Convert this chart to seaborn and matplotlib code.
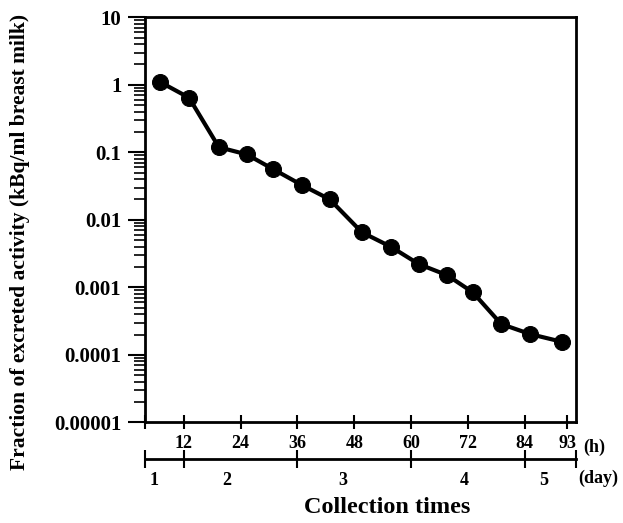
import numpy as np
import pandas as pd
import matplotlib
matplotlib.use("Agg")
import matplotlib.pyplot as plt
import matplotlib.ticker as mticker
import seaborn as sns

# data
hours = [6.9, 13.1, 19.4, 25.3, 30.8, 36.9, 42.8, 49.6, 55.7, 61.6, 67.6, 73.0, 79.0, 85.1, 91.8]
activity = [1.11, 0.644, 0.119, 0.093, 0.0566, 0.0328, 0.0201, 0.00653, 0.00399,
            0.00221, 0.00151, 0.000844, 0.000286, 0.000203, 0.000156]
y_ticks = [10, 1, 0.1, 0.01, 0.001, 0.0001, 0.00001]
y_labels = ["10", "1", "0.1", "0.01", "0.001", "0.0001", "0.00001"]
hour_ticks = [12, 24, 36, 48, 60, 72, 84, 93]
day_bounds = [12, 36, 60, 84]
day_label_pos = [5.7, 21.1, 45.6, 71.1, 88.0]
day_labels = ["1", "2", "3", "4", "5"]

df = pd.DataFrame({"hours": hours, "activity": activity})

sns.set_style("ticks")
plt.rcParams["font.family"] = ["Liberation Serif", "DejaVu Serif"]
plt.rcParams["font.weight"] = "bold"
for k in ["text.color", "axes.labelcolor", "xtick.color", "ytick.color", "axes.edgecolor"]:
    plt.rcParams[k] = "black"

fig = plt.figure(figsize=(6.23, 5.23), dpi=100)
ax = fig.add_axes([0.2327, 0.1925, 0.6919, 0.7744])

sns.lineplot(data=df, x="hours", y="activity", ax=ax, color="black", lw=3,
             marker="o", markersize=11.5, markeredgecolor="black")

xmin, xmax = 3.8, 94.8
ax.set_yscale("log")
ax.set_ylim(1e-5, 10)
ax.set_xlim(xmin, xmax)

ax.set_yticks(y_ticks)
ax.set_yticklabels(y_labels, fontsize=15, fontweight="bold")
ax.yaxis.set_minor_locator(mticker.LogLocator(base=10, subs=np.arange(2, 10)))
ax.yaxis.set_minor_formatter(mticker.NullFormatter())
ax.tick_params(axis="y", which="major", direction="out", length=12, width=1.5, pad=5)
ax.tick_params(axis="y", which="minor", direction="out", length=8, width=1.2)

ax.set_xticks([xmin] + hour_ticks)
ax.set_xticklabels([""] + [str(h) for h in hour_ticks], fontsize=13, fontweight="bold")
ax.xaxis.set_minor_locator(mticker.NullLocator())
ax.tick_params(axis="x", which="major", direction="inout", length=10, width=1.5, pad=4)

for s in ax.spines.values():
    s.set_linewidth(2)
    s.set_color("black")

# day axis below the hour axis
sec = ax.secondary_xaxis(-0.0914)
sec.set_xticks([xmin] + day_bounds + [xmax])
sec.set_xticklabels([""] * (len(day_bounds) + 2))
sec.xaxis.set_minor_locator(mticker.FixedLocator(day_label_pos))
sec.xaxis.set_minor_formatter(mticker.FixedFormatter(day_labels))
sec.tick_params(axis="x", which="major", direction="inout", length=13, width=1.5)
sec.tick_params(axis="x", which="minor", length=0, pad=9, labelsize=13)
for lab in sec.get_xticklabels(minor=True):
    lab.set_fontweight("bold")
sec.spines["bottom"].set_linewidth(2)

ax.text(1.016, -0.061, "(h)", transform=ax.transAxes, ha="left", va="center",
        fontsize=13, fontweight="bold")
ax.text(1.005, -0.138, "(day)", transform=ax.transAxes, ha="left", va="center",
        fontsize=13, fontweight="bold")

ax.set_xlabel("Collection times", fontsize=17.5, fontweight="bold")
ax.xaxis.set_label_coords(0.5626, -0.185)
ax.set_ylabel("Fraction of excreted activity (kBq/ml breast milk)", fontsize=15.5,
              fontweight="bold")
ax.yaxis.set_label_coords(-0.267, 0.446)

fig.savefig("out.png", dpi=100)
